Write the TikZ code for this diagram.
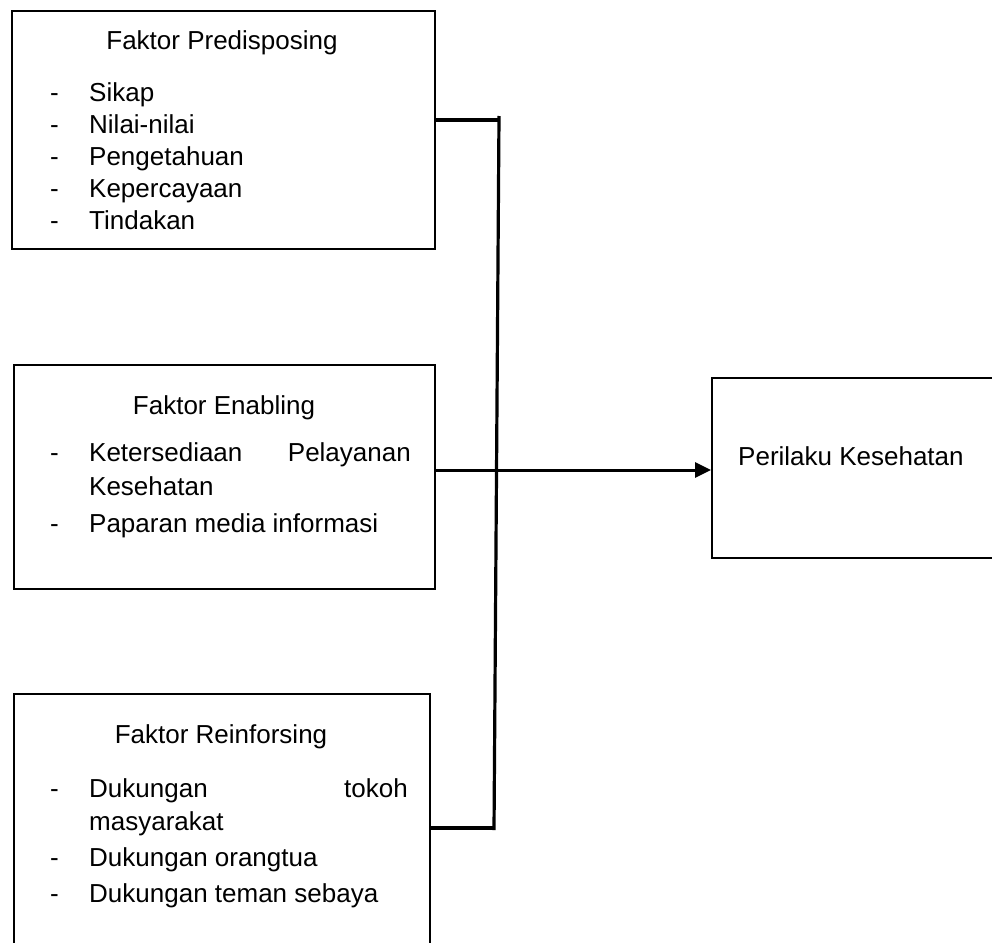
\documentclass[tikz,border=0pt]{standalone}
\usepackage{fontspec}
\setmainfont{Liberation Sans}
\usetikzlibrary{arrows.meta}
\begin{document}
\begin{tikzpicture}[x=1pt,y=-1pt,
  box/.style={draw=black,line width=2pt,inner sep=0pt,anchor=north west,fill=none},
  txt/.style={inner sep=0pt,anchor=base west,font=\fontsize{26}{32}\selectfont},
  ttl/.style={inner sep=0pt,anchor=base,font=\fontsize{26}{32}\selectfont},
  rtxt/.style={inner sep=0pt,anchor=base east,font=\fontsize{26}{32}\selectfont},
  conn/.style={draw=black,line width=3.2pt},
  arr/.style={draw=black,line width=3pt,-{Triangle[length=16pt,width=15pt]}}]
\useasboundingbox (0,0) rectangle (992,942);
% boxes
\node[box,minimum width=423pt,minimum height=238pt] (p) at (11,10) {};
\node[box,minimum width=421pt,minimum height=224pt] (e) at (13,364) {};
\node[box,minimum width=416pt,minimum height=280pt] (r) at (13,693) {};
\node[box,minimum width=300pt,minimum height=180pt] (o) at (711,377) {};
% box 1 text
\node[ttl] (pt) at (222,49) {Faktor Predisposing};
\node[txt] (pd1) at (50,101) {-}; \node[txt] (p1) at (89,101) {Sikap};
\node[txt] (pd2) at (50,133) {-}; \node[txt] (p2) at (89,133) {Nilai-nilai};
\node[txt] (pd3) at (50,165) {-}; \node[txt] (p3) at (89,165) {Pengetahuan};
\node[txt] (pd4) at (50,197) {-}; \node[txt] (p4) at (89,197) {Kepercayaan};
\node[txt] (pd5) at (50,229) {-}; \node[txt] (p5) at (89,229) {Tindakan};
% box 2 text
\node[ttl] (et) at (224,414) {Faktor Enabling};
\node[txt] (ed1) at (50,461) {-}; \node[txt] (e1a) at (89,461) {Ketersediaan};
\node[rtxt] (e1b) at (411,461) {Pelayanan};
\node[txt] (e1c) at (89,495) {Kesehatan};
\node[txt] (ed2) at (50,532) {-}; \node[txt] (e2) at (89,532) {Paparan media informasi};
% box 3 text
\node[ttl] (rt) at (221,743) {Faktor Reinforsing};
\node[txt] (rd1) at (50,797) {-}; \node[txt] (r1a) at (89,797) {Dukungan};
\node[rtxt] (r1b) at (408,797) {tokoh};
\node[txt] (r1c) at (89,830) {masyarakat};
\node[txt] (rd2) at (50,866) {-}; \node[txt] (r2) at (89,866) {Dukungan orangtua};
\node[txt] (rd3) at (50,902) {-}; \node[txt] (r3) at (89,902) {Dukungan teman sebaya};
% box 4 text
\node[txt] (ot) at (738,465) {Perilaku Kesehatan};
% connectors
\coordinate (jt) at (499,116);
\coordinate (jb) at (494,830);
\coordinate (pj) at (499,120);
\coordinate (rj) at (494,828);
\coordinate (ej) at (434,470);
\draw[conn] (p.east |- pj) -- (pj);
\draw[conn] (jt) -- (jb);
\draw[conn] (r.east |- rj) -- (rj);
\draw[arr] (ej) -- (o.west |- ej);
\end{tikzpicture}
\end{document}
